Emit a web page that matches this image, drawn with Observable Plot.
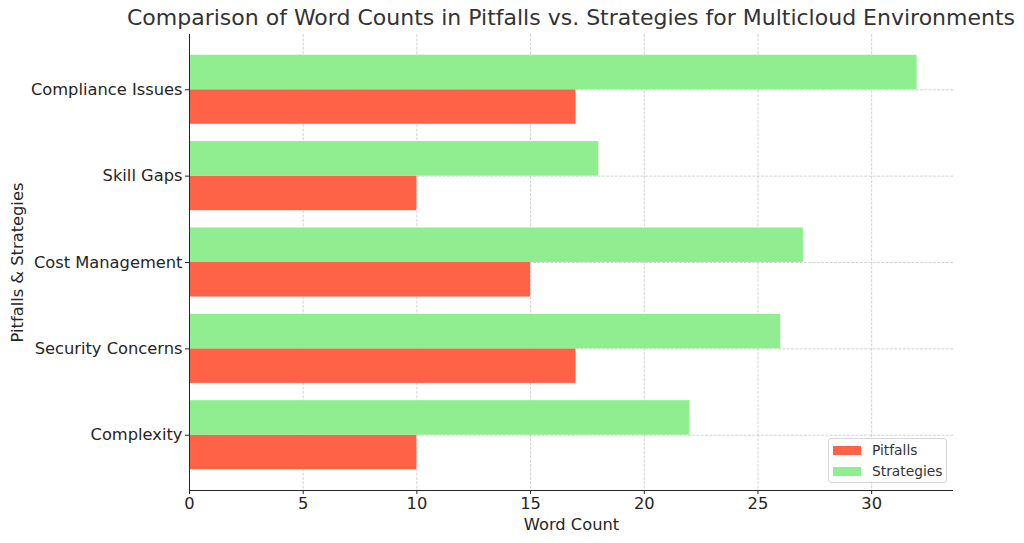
<!DOCTYPE html>
<html><head><meta charset="utf-8">
<script src="https://cdn.jsdelivr.net/npm/d3@7"></script>
<script src="https://cdn.jsdelivr.net/npm/@observablehq/plot@0.6"></script>
<style>
body{margin:0;background:#fff;font-family:"DejaVu Sans",sans-serif;overflow:hidden;}
#wrap{position:relative;width:1024px;height:543px;}
#title{position:absolute;top:5px;left:571px;transform:translateX(-50%);white-space:nowrap;font-size:22px;line-height:26px;color:#333;}
#chart{position:absolute;top:33px;left:0;}
#legend{position:absolute;left:828px;top:438px;width:117px;height:43px;border:1px solid #d6d6d6;border-radius:3px;background:rgba(255,255,255,0.85);font-size:13.8px;color:#333;}
.item{position:absolute;left:4px;height:18px;line-height:18px;white-space:nowrap;}
.sw{display:inline-block;width:28px;height:9px;vertical-align:middle;margin-right:11px;margin-top:-2px;}
</style></head>
<body><div id="wrap"><div id="title"></div><div id="chart"></div><div id="legend"></div></div>
<script>
const titleText = "Comparison of Word Counts in Pitfalls vs. Strategies for Multicloud Environments";
const categories = ["Complexity","Security Concerns","Cost Management","Skill Gaps","Compliance Issues"];
const pitfalls = [10,17,15,10,17];
const strategies = [22,26,27,18,32];
const seriesNames = ["Pitfalls","Strategies"];
const seriesColors = ["#FF6347","#90EE90"];
const xTicks = [0,5,10,15,20,25,30];
const xLabel = "Word Count";
const yLabel = "Pitfalls & Strategies";
const barHeight = 0.4;

document.getElementById("title").textContent = titleText;

const rows = categories.flatMap((c,i)=>[
  {category:c, idx:i, series:seriesNames[0], value:pitfalls[i], y1:i-barHeight, y2:i},
  {category:c, idx:i, series:seriesNames[1], value:strategies[i], y1:i, y2:i+barHeight}
]);
const xMax = d3.max([...pitfalls,...strategies])*1.05;
const yPad = (categories.length - 1 + 2*barHeight)*0.05;
const yDomain = [-barHeight - yPad, categories.length - 1 + barHeight + yPad];
const catIdx = d3.range(categories.length);
const gridStyle = {stroke:"#b0b0b0", strokeOpacity:0.7, strokeDasharray:"3,1.3", strokeWidth:0.8};
const ink = "#262626";

const chart = Plot.plot({
  width:1024, height:510, marginLeft:189, marginRight:71, marginTop:1, marginBottom:53,
  style:{fontFamily:"DejaVu Sans", fontSize:"16.3px", color:ink, background:"white", overflow:"visible"},
  x:{domain:[0,xMax]},
  y:{domain:yDomain},
  color:{domain:seriesNames, range:seriesColors},
  marks:[
    Plot.ruleX(xTicks,{x:d=>d, ...gridStyle}),
    Plot.ruleY(catIdx,{y:d=>d, ...gridStyle}),
    Plot.rectX(rows,{x1:0, x2:"value", y1:"y1", y2:"y2", fill:"series"}),
    Plot.axisX({ticks:xTicks, tickSize:4, tickPadding:3, tickFormat:d=>String(d), label:null, stroke:ink}),
    Plot.axisY({ticks:catIdx, tickSize:4, tickPadding:3, tickFormat:i=>categories[i], label:null, stroke:ink}),
    Plot.text([xLabel],{frameAnchor:"bottom", dy:34, lineAnchor:"middle", fontSize:16.3, fill:ink, text:d=>d}),
    Plot.text([yLabel],{frameAnchor:"left", dx:-172, rotate:-90, textAnchor:"middle", lineAnchor:"middle", fontSize:16.3, fill:ink, text:d=>d}),
    Plot.ruleX([0],{stroke:ink, strokeWidth:1}),
    Plot.ruleY([yDomain[0]],{stroke:ink, strokeWidth:1})
  ]
});
document.getElementById("chart").appendChild(chart);

const leg = document.getElementById("legend");
seriesNames.forEach((s,i)=>{
  const d = document.createElement("div");
  d.className="item";
  d.style.top = (2 + i*21) + "px";
  d.innerHTML = `<span class="sw" style="background:${seriesColors[i]}"></span>`;
  d.appendChild(document.createTextNode(s));
  leg.appendChild(d);
});
</script></body></html>
